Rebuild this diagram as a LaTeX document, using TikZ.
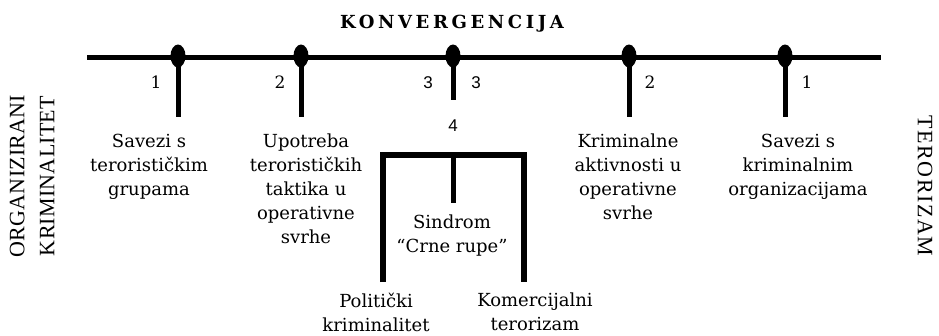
\documentclass[tikz,border=0pt]{standalone}
\usepackage{fontspec}
\setmainfont{DejaVu Serif}
\newfontfamily\numfont{Liberation Sans}
\newfontfamily\leftfont[LetterSpace=1]{Liberation Serif}
\newfontfamily\rightfont[LetterSpace=7]{Liberation Serif}
\newfontfamily\titlefont[LetterSpace=20]{DejaVu Serif}
\usetikzlibrary{shapes.geometric}
\tikzset{%
    bar/.style={line width=5pt},
    dot/.style={
		draw=none, fill=black,
		shape=ellipse,
		minimum width=15pt, minimum height=23pt,
		inner sep=0pt
	}
}
\tikzset{txt/.style={align=center, inner sep=0pt, anchor=north, font=\fontsize{18}{24}\selectfont}}
\tikzset{num/.style={inner sep=0pt, anchor=base, font=\fontsize{17}{17}\selectfont}}
\tikzset{sansnum/.style={num, font=\numfont\fontsize{17}{17}\selectfont}}
\tikzset{side/.style={align=center, inner sep=0pt}}

\begin{document}
\begin{tikzpicture}[x=1pt,y=-1pt]
		\useasboundingbox (0,0) rectangle (939,335);

		% Title and both ends
		\node[font=\titlefont\bfseries\fontsize{18}{18}\selectfont, anchor=base, inner sep=0pt] (title) at (452,28) {KONVERGENCIJA};
		\node[side, rotate=90, font=\leftfont\fontsize{22}{30}\selectfont] (orgkrim) at (32,176) {ORGANIZIRANI\\KRIMINALITET};
		\node[side, rotate=-90, font=\rightfont\fontsize{22}{30}\selectfont] (teror) at (925,186) {TERORIZAM};

		% Axis with the five points
		\coordinate (west) at (87,57);		\coordinate (east) at (881,57);
		\draw[bar] (west) -- (east);

		\node[dot] (d1) at (178,56) {};	\node[dot] (d2) at (301,56) {};	\node[dot] (d3) at (453,56) {};	\node[dot] (d4) at (629,56) {};	\node[dot] (d5) at (785,56) {};
		\coordinate (t1) at (178,117);	\coordinate (t2) at (301,117);	\coordinate (t3) at (453,100);	\coordinate (t4) at (629,117);	\coordinate (t5) at (785,117);

		\draw[bar] (d1.center) -- (t1);
		\draw[bar] (d2.center) -- (t2);
		\draw[bar] (d3.center) -- (t3);
		\draw[bar] (d4.center) -- (t4);
		\draw[bar] (d5.center) -- (t5);

		\node[num] (n1) at (156,88) {1};	\node[num] (n2) at (280,88) {2};	\node[sansnum] (n3l) at (428,88) {3};	\node[sansnum] (n3r) at (476,88) {3};	\node[num] (n4r) at (650,88) {2};	\node[num] (n5) at (807,88) {1};
		\node[sansnum] (n4) at (453,131) {4};

		% Box under point 4
		\coordinate (boxnw) at (383,155);	\coordinate (boxtop) at (453,155);	\coordinate (boxne) at (524,155);
		\coordinate (boxsw) at (383,282);	\coordinate (stem) at (453,203);	\coordinate (boxse) at (524,282);
		\draw[bar, line width=6pt] (boxsw) -- (boxnw) -- (boxne) -- (boxse);
		\draw[bar] (boxtop) -- (stem);

		% Texts
		\node[txt] (savter) at (149,134) {Savezi s\\terorističkim\\grupama};
		\node[txt] (upotreba) at (306,134) {Upotreba\\terorističkih\\taktika u\\operativne\\svrhe};
		\node[txt] (kriminalne) at (628,134) {Kriminalne\\aktivnosti u\\operativne\\svrhe};
		\node[txt] (savkrim) at (798,134) {Savezi s\\kriminalnim\\organizacijama};
		\node[txt] (sindrom) at (452,215) {Sindrom\\“Crne rupe”};
		\node[txt] (politicki) at (376,293) {Politički\\kriminalitet};
		\node[txt] (komercijalni) at (535,293) {Komercijalni\\terorizam};
	\end{tikzpicture}
\end{document}
